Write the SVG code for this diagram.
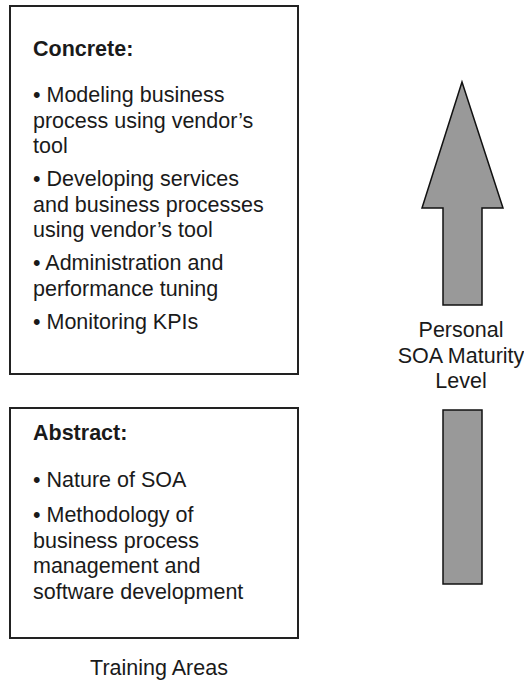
<svg xmlns="http://www.w3.org/2000/svg" width="524" height="680" viewBox="0 0 524 680">
<style>
.box{fill:#fff;stroke:#222;stroke-width:2}
.t{font-family:"Liberation Sans",Arial,sans-serif;font-size:21.5px;fill:#1a1a1a}
.b{font-weight:bold}
.arr{fill:#999;stroke:#111;stroke-width:1.5;stroke-linejoin:miter}
</style>
<rect width="524" height="680" fill="#fff"/>
<g id="concrete">
<rect class="box" x="10" y="6" width="288" height="368"/>
<text class="t b" x="33" y="56">Concrete:</text>
<text class="t" x="33" y="102">• Modeling business</text>
<text class="t" x="33" y="127.5">process using vendor’s</text>
<text class="t" x="33" y="153">tool</text>
<text class="t" x="33" y="186">• Developing services</text>
<text class="t" x="33" y="211.5">and business processes</text>
<text class="t" x="33" y="237">using vendor’s tool</text>
<text class="t" x="33" y="270">• Administration and</text>
<text class="t" x="33" y="295.5">performance tuning</text>
<text class="t" x="33" y="329">• Monitoring KPIs</text>
</g>
<g id="abstract">
<rect class="box" x="10" y="408" width="288" height="230"/>
<text class="t b" x="33" y="440">Abstract:</text>
<text class="t" x="33" y="487">• Nature of SOA</text>
<text class="t" x="33" y="522">• Methodology of</text>
<text class="t" x="33" y="547.5">business process</text>
<text class="t" x="33" y="573">management and</text>
<text class="t" x="33" y="598.5">software development</text>
</g>
<g id="caption">
<text class="t" x="159" y="675" text-anchor="middle">Training Areas</text>
</g>
<g id="maturity-arrow">
<polygon class="arr" points="462,82 503,208 482,208 482,305 443,305 443,208 422,208"/>
<rect class="arr" x="443" y="410" width="39" height="174"/>
<text class="t" x="461" y="337" text-anchor="middle">Personal</text>
<text class="t" x="461" y="362.5" text-anchor="middle">SOA Maturity</text>
<text class="t" x="461" y="388" text-anchor="middle">Level</text>
</g>
</svg>
